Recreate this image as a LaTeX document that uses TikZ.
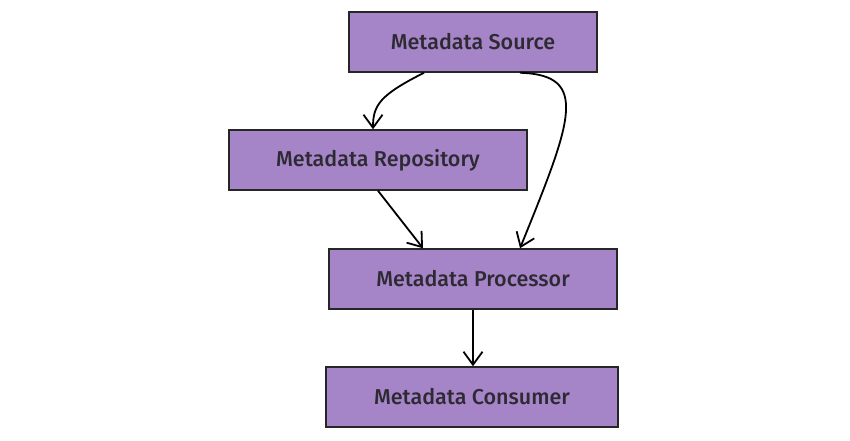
\documentclass[tikz,border=0pt]{standalone}
\usepackage{fontspec}
\setmainfont{Fira Sans}[BoldFont={Fira Sans Medium}]
\usetikzlibrary{arrows.meta}
\definecolor{metapurple}{HTML}{A585C8}
\definecolor{metatext}{HTML}{2E2A33}
\tikzset{
    metabox/.style={draw=black!85, fill=metapurple, line width=1.5pt, minimum height=60pt, inner sep=0pt, text=metatext, font=\bfseries\fontsize{21.5}{25}\selectfont},
    metaflow/.style={line width=1.8pt, -{Straight Barb[length=13pt, width=19pt]}}
}

\begin{document}
\begin{tikzpicture}[x=1pt, y=-1pt]
        \useasboundingbox (0,0) rectangle (850,440);
        \node[metabox, minimum width=248pt] (source) at (473,42) {Metadata Source};
        \node[metabox, minimum width=298pt] (repository) at (378,160) {Metadata Repository};
        \node[metabox, minimum width=288pt] (processor) at (473,279) {Metadata Processor};
        \node[metabox, minimum width=292pt] (consumer) at (472,397) {Metadata Consumer};
        \draw[metaflow] ([xshift=-49pt]source.south) .. controls (380,95) and (373,105) .. ([xshift=-5pt]repository.north);
        \draw[metaflow] ([xshift=47pt]source.south) .. controls (590,75) and (572,120) .. ([xshift=47pt]processor.north);
        \draw[metaflow] (repository.south) -- ([xshift=-50pt]processor.north);
        \draw[metaflow] (processor.south) -- (processor.south |- consumer.north);
    \end{tikzpicture}
\end{document}
